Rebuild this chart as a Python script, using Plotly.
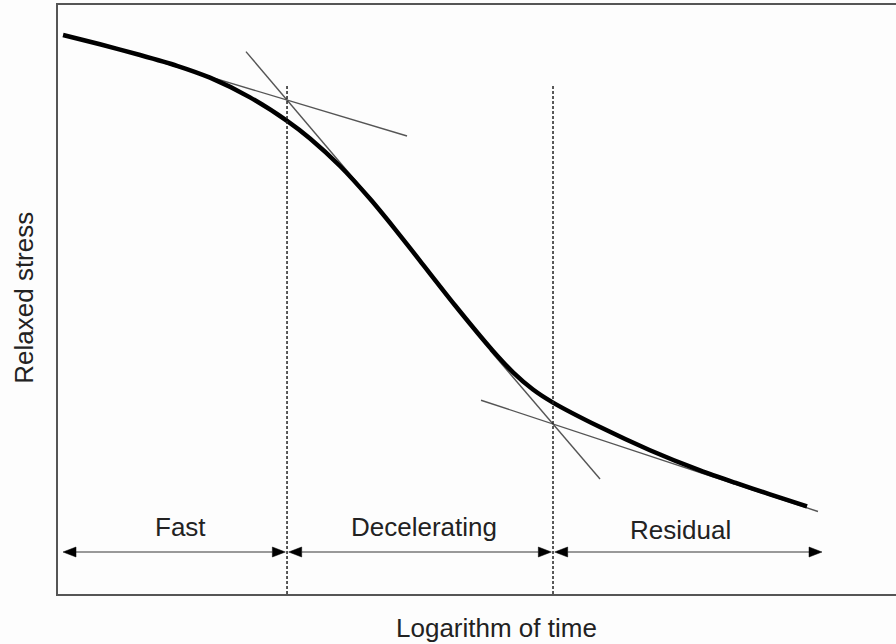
import plotly.graph_objects as go

# Relaxed stress vs. logarithm of time (schematic relaxation curve)
log_time = [0.060, 0.501, 0.979, 1.420, 1.814, 2.291, 2.733, 3.007, 3.365,
            3.723, 4.021, 4.320, 4.737, 5.191, 5.430, 5.668, 5.907, 6.468,
            7.064, 7.661, 8.079, 8.496, 8.938]
stress = [9.491, 9.334, 9.151, 8.968, 8.766, 8.432, 8.034, 7.735, 7.267,
          6.710, 6.196, 5.657, 4.903, 4.126, 3.764, 3.472, 3.250, 2.834,
          2.441, 2.098, 1.890, 1.693, 1.486]

# Tangent construction lines (start x, end x) and (start y, end y)
tangent_x = [[1.277, 4.165], [2.243, 3.783], [5.155, 6.468], [5.048, 9.069]]
tangent_y = [[9.008, 7.776], [9.209, 6.625], [4.138, 1.952], [3.290, 1.401]]

# Phase boundaries on the time axis
boundaries = [2.733, 5.907]
boundary_top = 8.66
phase_edges = [0.06, 2.733, 5.907, 9.117]
phase_names = ["Fast", "Decelerating", "Residual"]
label_x = [1.46, 4.37, 7.43]
label_y = [1.14, 1.14, 1.08]
arrow_y = 0.713

X_RANGE = [0, 10]
Y_RANGE = [0, 10]

FONT = "Liberation Sans, Arial, Helvetica, sans-serif"
TEXT_COLOR = "#222222"

fig = go.Figure()

# tangent lines
for tx, ty in zip(tangent_x, tangent_y):
    fig.add_trace(go.Scatter(x=tx, y=ty, mode="lines",
                             line=dict(color="#555555", width=1.4),
                             hoverinfo="skip", showlegend=False))

# relaxation curve
fig.add_trace(go.Scatter(x=log_time, y=stress, mode="lines",
                         line=dict(color="#000000", width=4.5, shape="spline",
                                   smoothing=0.7),
                         hoverinfo="skip", showlegend=False))

# phase boundary lines
for b in boundaries:
    fig.add_trace(go.Scatter(x=[b, b], y=[Y_RANGE[0], boundary_top], mode="lines",
                             line=dict(color="#222222", width=1.5, dash="3px,2px"),
                             hoverinfo="skip", showlegend=False))

# double-headed arrows for each phase
gap = 0.02
head_len = 0.155
head_half = 0.085
for i in range(len(phase_names)):
    left = phase_edges[i] + (gap if i > 0 else 0)
    right = phase_edges[i + 1] - (gap if i < len(phase_names) - 1 else 0)
    fig.add_trace(go.Scatter(x=[left + head_len, right - head_len],
                             y=[arrow_y, arrow_y], mode="lines",
                             line=dict(color="#777777", width=1.6),
                             hoverinfo="skip", showlegend=False))
    for tip, d in ((left, 1), (right, -1)):
        fig.add_trace(go.Scatter(
            x=[tip, tip + d * head_len, tip + d * head_len, tip],
            y=[arrow_y, arrow_y + head_half, arrow_y - head_half, arrow_y],
            mode="lines", fill="toself", fillcolor="#000000",
            line=dict(color="#000000", width=0.5),
            hoverinfo="skip", showlegend=False))
    fig.add_annotation(x=label_x[i], y=label_y[i], text=phase_names[i],
                       showarrow=False, xanchor="center", yanchor="middle",
                       font=dict(family=FONT, size=26, color=TEXT_COLOR))

# axis titles
fig.add_annotation(xref="paper", yref="paper", x=0.523, y=0, yshift=-34,
                   text="Logarithm of time", showarrow=False,
                   xanchor="center", yanchor="middle",
                   font=dict(family=FONT, size=26, color=TEXT_COLOR))
fig.add_annotation(xref="paper", yref="paper", x=0, y=0.503, xshift=-34,
                   text="Relaxed stress", showarrow=False, textangle=-90,
                   xanchor="center", yanchor="middle",
                   font=dict(family=FONT, size=26, color=TEXT_COLOR))

fig.update_xaxes(range=X_RANGE, showgrid=False, zeroline=False,
                 showticklabels=False, ticks="", showline=True, mirror=True,
                 linecolor="#555555", linewidth=2)
fig.update_yaxes(range=Y_RANGE, showgrid=False, zeroline=False,
                 showticklabels=False, ticks="", showline=True, mirror=False,
                 linecolor="#555555", linewidth=2)

fig.update_layout(width=896, height=644,
                  margin=dict(l=58, r=0, t=5, b=50),
                  paper_bgcolor="#fdfdfd", plot_bgcolor="#fdfdfd",
                  showlegend=False)

fig.write_html("out.html")
